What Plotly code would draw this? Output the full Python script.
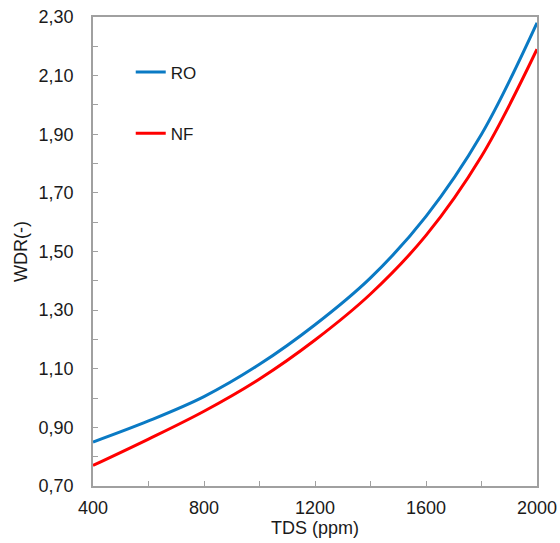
import plotly.graph_objects as go

tds = [400, 600, 800, 1000, 1200, 1400, 1600, 1800, 2000]
wdr_ro = [0.85, 0.922, 1.005, 1.115, 1.25, 1.41, 1.62, 1.90, 2.28]
wdr_nf = [0.77, 0.86, 0.955, 1.065, 1.198, 1.355, 1.555, 1.825, 2.19]

x_ticks = [400, 800, 1200, 1600, 2000]
y_ticks = [0.70, 0.90, 1.10, 1.30, 1.50, 1.70, 1.90, 2.10, 2.30]

font_family = "Liberation Sans, Arial, sans-serif"
text_color = "#1a1a1a"

fig = go.Figure()
fig.add_trace(go.Scatter(x=tds, y=wdr_ro, name="RO", mode="lines",
                         line=dict(color="#0a7ac4", width=3, shape="spline"),
                         legendgroup="ro"))
fig.add_trace(go.Scatter(x=tds, y=wdr_nf, name="NF", mode="lines",
                         line=dict(color="#ff0000", width=3, shape="spline"),
                         legendgroup="nf"))

axis_common = dict(
    showgrid=False, zeroline=False, showline=True, linecolor="#a0a0a0",
    linewidth=1.5, mirror=True, ticks="inside", ticklen=5, tickwidth=1,
    tickcolor="#a0a0a0", automargin=False,
    tickfont=dict(size=18, color=text_color, family=font_family),
)

fig.update_layout(
    width=560, height=543,
    margin=dict(l=93, r=23, t=17, b=57),
    paper_bgcolor="white", plot_bgcolor="white",
    separators=",.",
    font=dict(family=font_family, color=text_color, size=18),
    showlegend=True,
    legend=dict(x=0.085, y=0.92, xanchor="left", yanchor="top",
                bgcolor="rgba(0,0,0,0)", tracegroupgap=36,
                font=dict(size=17, color=text_color, family=font_family)),
    xaxis=dict(range=[400, 2000], tickvals=x_ticks, tickformat="d",
               minor=dict(dtick=200, tick0=400, ticks="inside", ticklen=5,
                          tickcolor="#a0a0a0"),
               title=dict(text="TDS (ppm)", standoff=2,
                          font=dict(size=18, color=text_color, family=font_family)),
               ticklabelstandoff=5, **axis_common),
    yaxis=dict(range=[0.70, 2.30], tickvals=y_ticks, tickformat=".2f",
               minor=dict(dtick=0.1, tick0=0.7, ticks="inside", ticklen=5,
                          tickcolor="#a0a0a0"),
               title=dict(text="WDR(-)", standoff=6,
                          font=dict(size=18, color=text_color, family=font_family)),
               ticklabelstandoff=14, **axis_common),
)

fig.write_html("out.html")
